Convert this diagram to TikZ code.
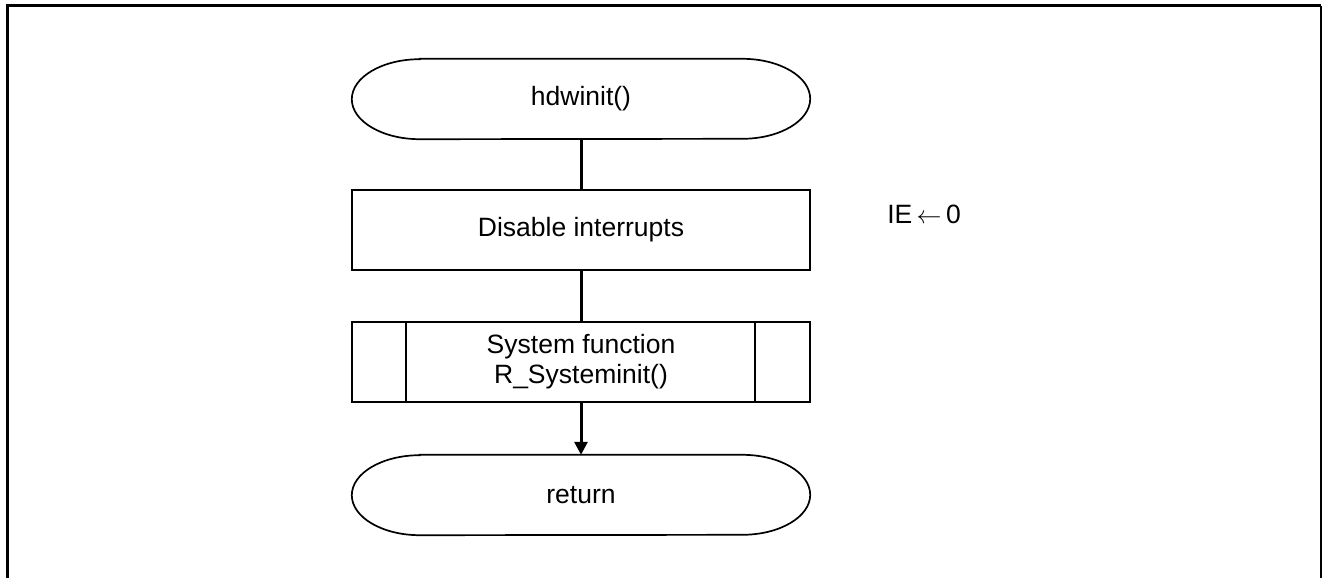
\documentclass[tikz,border=0pt]{standalone}
\usepackage{fontspec}
\setmainfont{Liberation Sans}
\usetikzlibrary{arrows.meta}
\begin{document}
\begin{tikzpicture}[x=1pt,y=-1pt,
  every node/.style={font=\fontsize{26.5}{30}\selectfont, align=center, inner sep=0pt},
  procbox/.style={draw, line width=2pt, minimum width=458pt, minimum height=80pt},
  termnode/.style={minimum width=458pt, minimum height=80pt},
  conn/.style={line width=3pt},
  arr/.style={conn, -{Triangle[length=13pt,width=13pt]}}]
\useasboundingbox (0,0) rectangle (1325,578);
% frame
\draw[line width=3pt] (7,578) -- (7,6) -- (1321,6);
\draw[line width=2pt] (1321,6) -- (1321,578);

\node[termnode] (start) at (581,99) {hdwinit()};
\node[procbox] (dis) at (581,230) {Disable interrupts};
\node[procbox] (sys) at (581,362) {System function\\R\_Systeminit()};
\node[termnode] (ret) at (581,495) {return};
\node (ie) at (924,214) {IE\,$\leftarrow$\,0};

% terminal outlines
\foreach \n in {start,ret}{
  \draw[line width=1.7pt] ([xshift=68pt]\n.north west) -- ([xshift=-68pt]\n.north east)
    arc[start angle=-90,end angle=90,x radius=68pt,y radius=-40pt]
    -- ([xshift=68pt]\n.south west)
    arc[start angle=90,end angle=270,x radius=68pt,y radius=-40pt] -- cycle;
}
% subroutine inner lines
\draw[line width=2pt] ([xshift=55pt]sys.north west) -- ([xshift=55pt]sys.south west);
\draw[line width=2pt] ([xshift=-56pt]sys.north east) -- ([xshift=-56pt]sys.south east);

\draw[conn] (start) -- (dis);
\draw[conn] (dis) -- (sys);
\draw[arr] (sys) -- (ret);
\end{tikzpicture}
\end{document}
